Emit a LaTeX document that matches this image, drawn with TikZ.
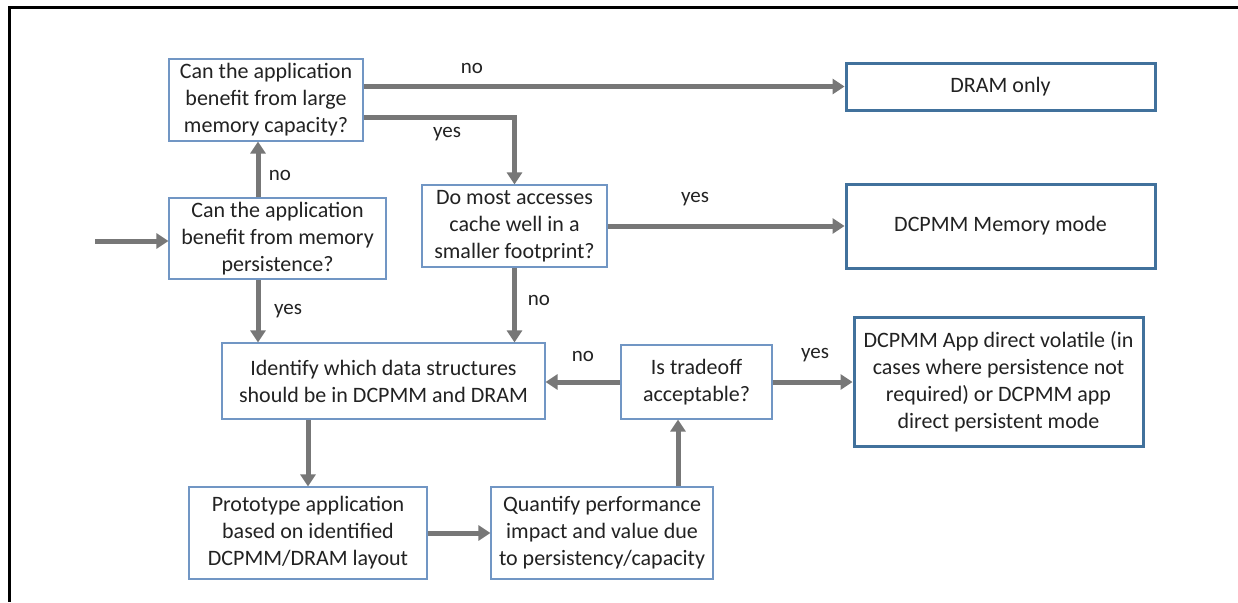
\documentclass[tikz,border=0pt]{standalone}
\usepackage{fontspec}
\setmainfont{Carlito}
\usetikzlibrary{arrows.meta}
\definecolor{thinblue}{HTML}{7196C4}
\definecolor{thickblue}{HTML}{41719C}
\definecolor{arrgray}{HTML}{777777}
\definecolor{txt}{HTML}{222222}
\tikzset{
  qbox/.style={draw=thinblue, line width=1.2pt, fill=white, inner sep=0pt, align=center, text=txt,
    font=\fontsize{22}{27}\selectfont},
  endbox/.style={draw=thickblue, line width=3pt, fill=white, inner sep=0pt, align=center, text=txt,
    font=\fontsize{22}{27}\selectfont},
  arr/.style={draw=arrgray, line width=5pt, -{Triangle[length=12pt,width=15pt]}},
  lbl/.style={text=txt, inner sep=0pt, font=\fontsize{21}{25}\selectfont},
}
\begin{document}
\begin{tikzpicture}[x=1pt,y=-1pt]
\useasboundingbox (0,0) rectangle (1238,602);
\fill[white] (0,0) rectangle (1238,602);
% frame (top and left)
\draw[black, line width=2.5pt] (1238,7.5) -- (9.5,7.5) -- (9.5,602);

% nodes
\node[qbox, minimum width=194pt, minimum height=82pt] (A) at (266,100) {Can the application\\benefit from large\\memory capacity?};
\node[qbox, minimum width=217pt, minimum height=81pt] (B) at (277.5,238.5) {Can the application\\benefit from memory\\persistence?};
\node[qbox, minimum width=185pt, minimum height=82pt] (C) at (514.5,226) {Do most accesses\\cache well in a\\smaller footprint?};
\node[qbox, minimum width=323pt, minimum height=76pt] (D) at (383.5,381) {Identify which data structures\\should be in DCPMM and DRAM};
\node[qbox, minimum width=151pt, minimum height=74pt] (E) at (696.5,382) {Is tradeoff\\acceptable?};
\node[qbox, minimum width=238pt, minimum height=92pt] (F) at (308,533) {Prototype application\\based on identified\\DCPMM/DRAM layout};
\node[qbox, minimum width=222pt, minimum height=92pt] (G) at (602,533) {Quantify performance\\impact and value due\\to persistency/capacity};
\node[endbox, minimum width=309pt, minimum height=47pt] (H) at (1000.5,86.5) {DRAM only};
\node[endbox, minimum width=309pt, minimum height=84pt] (I) at (1000.5,226) {DCPMM Memory mode};
\node[endbox, minimum width=289pt, minimum height=129pt] (J) at (998.5,381.5) {DCPMM App direct volatile (in\\cases where persistence not\\required) or DCPMM app\\direct persistent mode};

% helper coordinates
\coordinate (start) at (95,241);
\coordinate (xb) at (258,0);
\coordinate (yac) at (0,117);
\coordinate (xge) at (678,0);

% connectors
\draw[arr] (start) -- (start -| B.west);
\draw[arr] (B.north -| xb) -- (A.south -| xb);
\draw[arr] (B.south -| xb) -- (D.north -| xb);
\draw[arr] (A.east |- H.west) -- (H.west);
\draw[arr] (A.east |- yac) -| (C.north);
\draw[arr] (C.east) -- (C.east -| I.west);
\draw[arr] (C.south) -- (C.south |- D.north);
\draw[arr] (E.west) -- (E.west -| D.east);
\draw[arr] (E.east) -- (E.east -| J.west);
\draw[arr] (F.north |- D.south) -- (F.north);
\draw[arr] (F.east) -- (F.east -| G.west);
\draw[arr] (G.north -| xge) -- (E.south -| xge);

% labels
\node[lbl] (l1) at (280,175) {no};
\node[lbl] (l2) at (472,68) {no};
\node[lbl] (l3) at (447,134) {yes};
\node[lbl] (l4) at (695,199) {yes};
\node[lbl] (l5) at (539,300) {no};
\node[lbl] (l6) at (288,311) {yes};
\node[lbl] (l7) at (583,356) {no};
\node[lbl] (l8) at (815,355) {yes};
\end{tikzpicture}
\end{document}
